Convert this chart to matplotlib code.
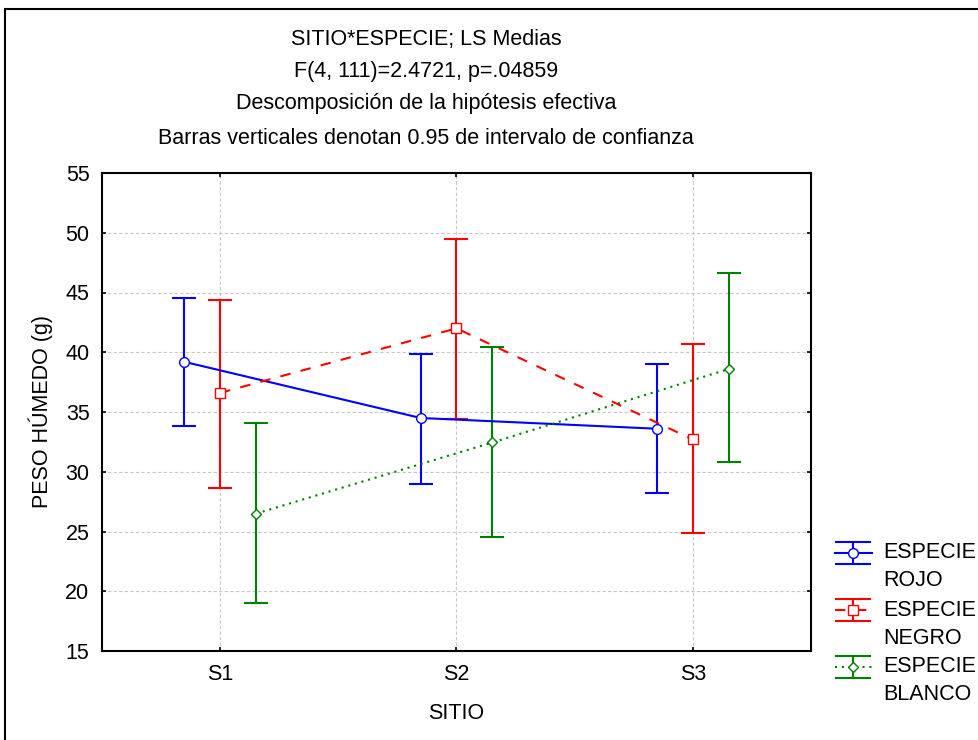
import matplotlib.pyplot as plt
from matplotlib.patches import Rectangle
import numpy as np

plt.rcParams['font.family'] = ['Liberation Sans', 'DejaVu Sans']

sitios = ['S1', 'S2', 'S3']
especies = ['ROJO', 'NEGRO', 'BLANCO']

# medias LS y limites del intervalo de confianza al 95 %
rojo_media = [39.2, 34.5, 33.6]
rojo_inf = [33.85, 29.0, 28.2]
rojo_sup = [44.5, 39.85, 39.05]

negro_media = [36.6, 42.0, 32.7]
negro_inf = [28.6, 34.4, 24.85]
negro_sup = [44.4, 49.5, 40.7]

blanco_media = [26.5, 32.45, 38.6]
blanco_inf = [19.05, 24.55, 30.8]
blanco_sup = [34.1, 40.4, 46.6]

titulo = ['SITIO*ESPECIE; LS Medias',
          'F(4, 111)=2.4721, p=.04859',
          'Descomposición de la hipótesis efectiva',
          'Barras verticales denotan 0.95 de intervalo de confianza']

W, H = 979, 740
FS = 15.5
fig = plt.figure(figsize=(W / 100, H / 100), dpi=100)

# marco exterior
fig.patches.append(Rectangle((5 / W, -0.1), 1.2, 1.1 - 9 / H, transform=fig.transFigure,
                             fill=False, edgecolor='black', linewidth=1.5))

ax = fig.add_axes([102 / W, 89 / H, 709 / W, 478 / H])

estilos = [
    dict(color='#0000ff', ls='-', marker='o', ms=7.0, dx=-0.152),
    dict(color='#ff0000', ls=(0, (5, 5)), marker='s', ms=6.5, dx=0.0),
    dict(color='#008000', ls=(0, (1, 2.3)), marker='D', ms=5.5, dx=0.152),
]
series = [(rojo_media, rojo_inf, rojo_sup),
          (negro_media, negro_inf, negro_sup),
          (blanco_media, blanco_inf, blanco_sup)]

x = np.arange(1, len(sitios) + 1)
for (media, inf, sup), st in zip(series, estilos):
    media = np.array(media)
    err = [media - np.array(inf), np.array(sup) - media]
    xs = x + st['dx']
    ax.errorbar(xs, media, yerr=err, fmt='none', ecolor=st['color'],
                elinewidth=1.5, capsize=8.3, capthick=1.5, zorder=3)
    ax.plot(xs, media, color=st['color'], ls=st['ls'], lw=1.5, zorder=4)
    ax.plot(xs, media, ls='none', marker=st['marker'], ms=st['ms'],
            mfc='white', mec=st['color'], mew=1.0, zorder=5)

ax.set_xlim(0.5, 3.5)
ax.set_ylim(15, 55)
ax.set_xticks(x)
ax.set_xticklabels(sitios)
ax.set_yticks(np.arange(15, 56, 5))
ax.grid(True, color='#c8c8c8', ls=(0, (3, 2)), lw=0.8)
ax.set_axisbelow(True)
for s in ax.spines.values():
    s.set_linewidth(1.5)
ax.tick_params(direction='in', length=3, width=1.2, labelsize=FS,
               top=True, right=True, pad=9)
ax.set_xlabel('SITIO', fontsize=FS, labelpad=13)
ax.set_ylabel('PESO HÚMEDO (g)', fontsize=FS, labelpad=9)

ys = [40, 72, 104, 139]
for t, y in zip(titulo, ys):
    fig.text(426 / W, 1 - y / H, t, ha='center', va='center', fontsize=FS)

# leyenda, en pixeles
leg = fig.add_axes([830 / W, 30 / H, 149 / W, 180 / H])
leg.set_xlim(0, 149)
leg.set_ylim(180, 0)
leg.axis('off')
for i, (nombre, st) in enumerate(zip(especies, estilos)):
    yc = 23 + 57 * i
    leg.plot([5, 42], [yc, yc], color=st['color'], ls=st['ls'], lw=1.5)
    leg.errorbar([23.5], [yc], yerr=11, fmt='none', ecolor=st['color'],
                 elinewidth=1.5, capsize=13.3, capthick=1.5)
    leg.plot([23.5], [yc], ls='none', marker=st['marker'], ms=st['ms'],
             mfc='white', mec=st['color'], mew=1.0)
    leg.text(53, yc, 'ESPECIE', va='center', fontsize=FS)
    leg.text(53, yc + 28, nombre, va='center', fontsize=FS)

fig.savefig('out.png', dpi=100)
